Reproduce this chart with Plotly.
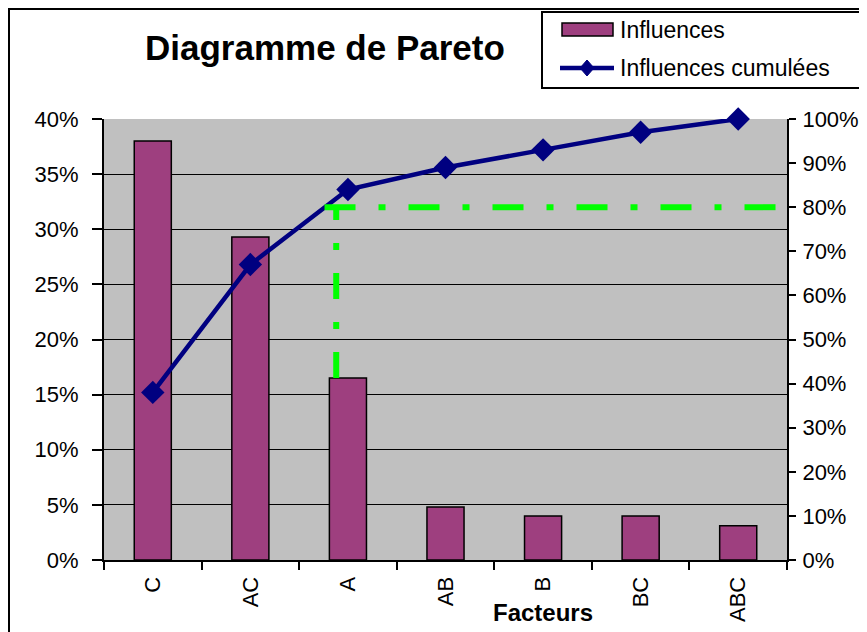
import plotly.graph_objects as go

# ---- data ----
categories = ["C", "AC", "A", "AB", "B", "BC", "ABC"]
influences = [38.0, 29.3, 16.5, 4.8, 4.0, 4.0, 3.1]          # % (left axis)
cumulees = [38.0, 67.0, 84.0, 89.0, 93.0, 97.0, 100.0]       # % (right axis)
left_ticks = [0, 5, 10, 15, 20, 25, 30, 35, 40]
right_ticks = [0, 10, 20, 30, 40, 50, 60, 70, 80, 90, 100]
seuil = 80            # Pareto threshold (% cumulated, right axis)
coupure = "A"         # category where the threshold is reached

# ---- layout geometry (page pixels; page has an 8px body margin) ----
OFF = 8
W, H = 867 - OFF, 632 - OFF
L, R, T, B = 104, 787, 119, 560          # plot area in page pixels
def px(xp):
    return (xp - L) / (R - L)
def py(yp):
    return (B - yp) / (B - T)

FONT = "Liberation Sans, Arial, sans-serif"
BAR_COLOR = "#9E3F7F"
LINE_COLOR = "#000080"
GREEN = "#00FF00"

fig = go.Figure()
fig.add_trace(go.Bar(
    x=categories, y=influences, name="Influences",
    marker=dict(color=BAR_COLOR, line=dict(color="black", width=1.5)),
    yaxis="y", showlegend=False,
))
fig.add_trace(go.Scatter(
    x=categories, y=cumulees, name="Influences cumulées",
    mode="lines+markers", yaxis="y2",
    line=dict(color=LINE_COLOR, width=4.5),
    marker=dict(symbol="diamond", size=18, color=LINE_COLOR),
    showlegend=False, cliponaxis=False,
))

ci = categories.index(coupure)
shapes = [
    # threshold lines
    dict(type="line", xref="x", yref="y2", x0=ci - 0.24, x1=len(categories) - 0.5,
         y0=seuil, y1=seuil, line=dict(color=GREEN, width=6, dash="31px,23px,7px,23px")),
    dict(type="line", xref="x", yref="y", x0=ci - 0.12, x1=ci - 0.12,
         y0=influences[ci], y1=seuil * 40 / 100,
         line=dict(color=GREEN, width=6, dash="26px,23px,7px,23px")),
    # outer chart frame
    dict(type="rect", xref="paper", yref="paper", x0=px(9), x1=px(870), y0=py(650), y1=py(9),
         line=dict(color="black", width=2), fillcolor="rgba(0,0,0,0)", layer="above"),
    # legend box
    dict(type="rect", xref="paper", yref="paper", x0=px(542), x1=px(862), y0=py(88), y1=py(12),
         line=dict(color="black", width=2), fillcolor="white"),
    # legend swatch for bars
    dict(type="rect", xref="paper", yref="paper", x0=px(562), x1=px(613), y0=py(36), y1=py(23),
         line=dict(color="black", width=1.5), fillcolor=BAR_COLOR),
    # legend swatch for line
    dict(type="line", xref="paper", yref="paper", x0=px(560), x1=px(614), y0=py(68), y1=py(68),
         line=dict(color=LINE_COLOR, width=4.5)),
    dict(type="path", xref="paper", yref="paper",
         path="M {a},{b} L {c},{d} L {e},{b} L {c},{f} Z".format(
             a=px(580), b=py(68), c=px(587), d=py(60), e=px(594), f=py(76)),
         line=dict(color=LINE_COLOR, width=1), fillcolor=LINE_COLOR),
]

annotations = [
    dict(text="<b>Diagramme de Pareto</b>", xref="paper", yref="paper",
         x=px(325), y=py(48), xanchor="center", yanchor="middle", showarrow=False,
         font=dict(family=FONT, size=35, color="black")),
    dict(text="Influences", xref="paper", yref="paper", x=px(618), y=py(30),
         xanchor="left", yanchor="middle", showarrow=False,
         font=dict(family=FONT, size=23, color="black")),
    dict(text="Influences cumulées", xref="paper", yref="paper", x=px(618), y=py(68),
         xanchor="left", yanchor="middle", showarrow=False,
         font=dict(family=FONT, size=23, color="black")),
    dict(text="<b>Facteurs</b>", xref="paper", yref="paper", x=px(543), y=py(612),
         xanchor="center", yanchor="middle", showarrow=False,
         font=dict(family=FONT, size=24, color="black")),
]

fig.update_layout(
    width=W, height=H,
    margin=dict(l=L - OFF, r=(W + OFF) - R, t=T - OFF, b=(H + OFF) - B, pad=0),
    paper_bgcolor="white", plot_bgcolor="#C0C0C0",
    font=dict(family=FONT, size=22, color="black"),
    bargap=0.62,
    xaxis=dict(
        type="category", tickangle=-90, ticks="outside", ticklen=8, tickwidth=1.5,
        tickcolor="black", tickson="boundaries", showline=True, linecolor="black",
        linewidth=2, showgrid=False, tickfont=dict(family=FONT, size=22),
        range=[-0.5, len(categories) - 0.5], fixedrange=True, ticklabelstandoff=6,
        automargin=False,
    ),
    yaxis=dict(
        range=[0, 40], tickvals=left_ticks, ticktext=[f"{v}%" for v in left_ticks],
        ticks="outside", ticklen=10, tickwidth=1.5, tickcolor="black",
        showline=True, linecolor="black", linewidth=2,
        showgrid=True, gridcolor="black", gridwidth=1, zeroline=False,
        tickfont=dict(family=FONT, size=22), ticklabelstandoff=9, automargin=False,
    ),
    yaxis2=dict(
        range=[0, 100], tickvals=right_ticks, ticktext=[f"{v}%" for v in right_ticks],
        overlaying="y", side="right",
        ticks="outside", ticklen=7, tickwidth=1.5, tickcolor="black",
        showline=True, linecolor="black", linewidth=2,
        showgrid=False, zeroline=False,
        tickfont=dict(family=FONT, size=22), ticklabelstandoff=2, automargin=False,
    ),
    shapes=shapes, annotations=annotations,
    showlegend=False,
)

fig.write_html("out.html")
